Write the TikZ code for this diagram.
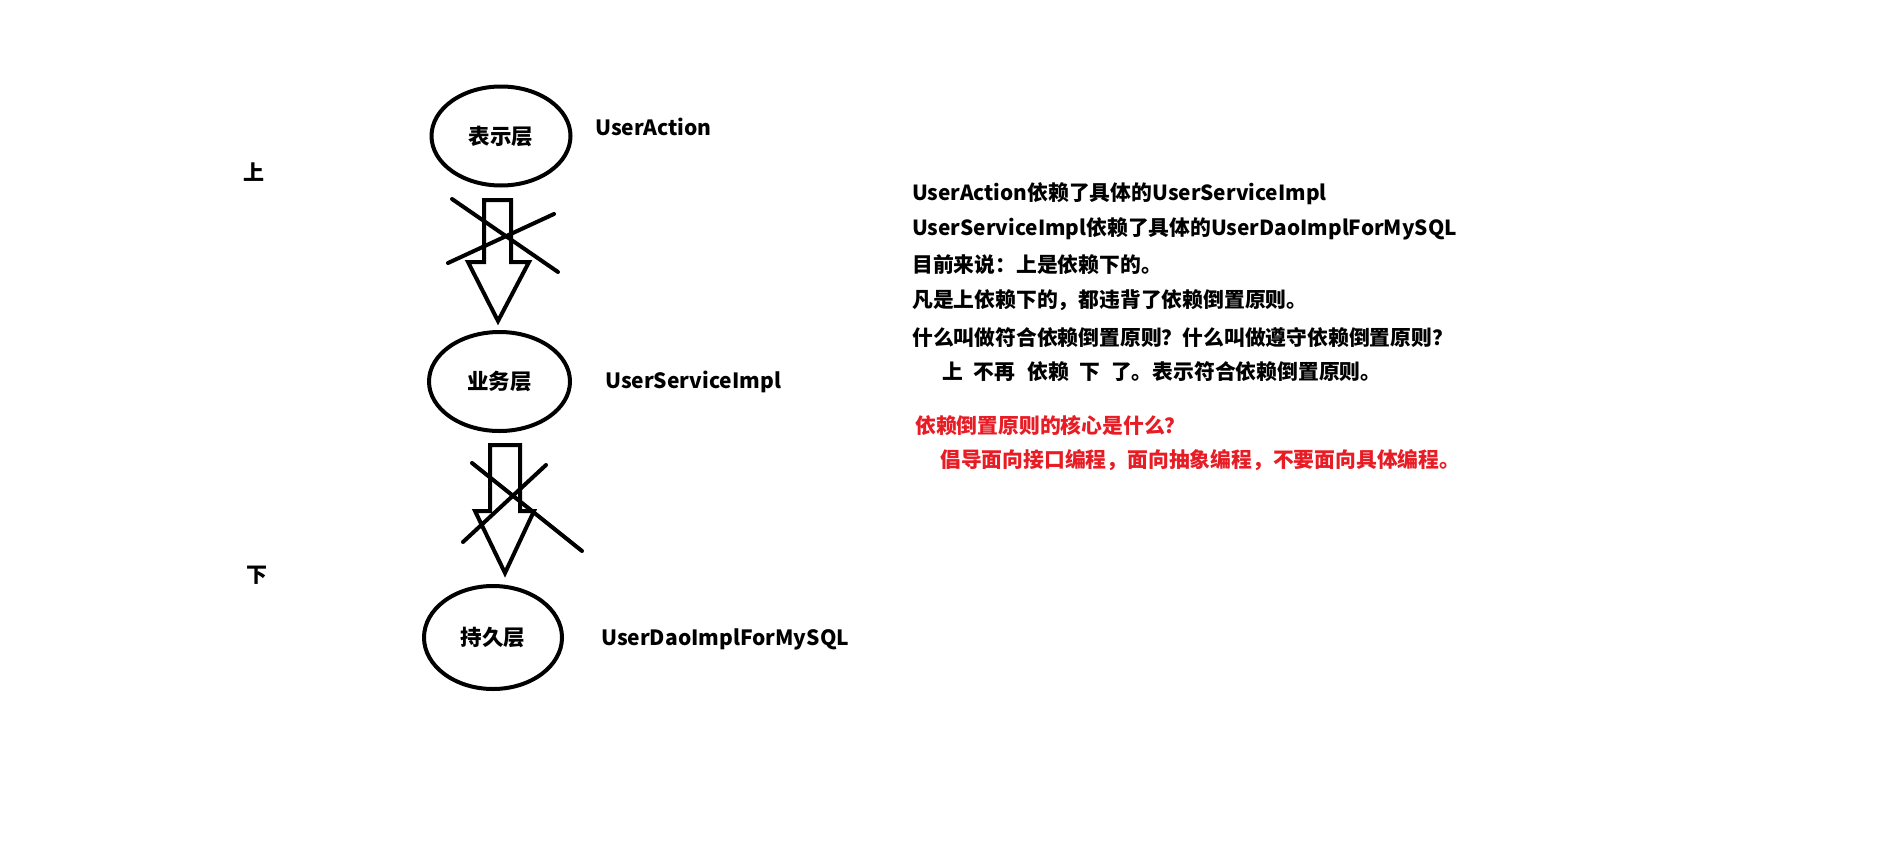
\documentclass[tikz,border=0pt]{standalone}
\usepackage{fontspec}
\setmainfont{Noto Sans CJK SC}
\usetikzlibrary{shapes.geometric}
\definecolor{redtxt}{RGB}{232,28,36}
\begin{document}
\begin{tikzpicture}[x=1pt,y=-1pt,
  every node/.style={inner sep=0pt},
  layer/.style={ellipse, draw, line width=4pt, font=\bfseries\fontsize{21.5}{24}\selectfont},
  lbl/.style={anchor=base west, font=\bfseries\fontsize{21}{24}\selectfont},
  side/.style={font=\bfseries\fontsize{21}{24}\selectfont},
  txt/.style={anchor=base west, font=\bfseries\fontsize{20.8}{24}\selectfont},
  redline/.style={txt, text=redtxt},
  blk/.style={draw, line width=4pt, line join=miter},
  xline/.style={line width=4pt, line cap=round}]
\fill[white] (0,0) rectangle (1893,846);
\useasboundingbox (0,0) rectangle (1893,846);
% layers
\node[layer, minimum width=139pt, minimum height=99pt] (pres) at (501,136) {表示层};
\node[layer, minimum width=141pt, minimum height=99pt] (serv) at (499.5,381.5) {业务层};
\node[layer, minimum width=138pt, minimum height=103pt] (pers) at (493,637.5) {持久层};
% labels
\node[lbl] (l1) at (595,135) {UserAction};
\node[lbl] (l2) at (605,388) {UserServiceImpl};
\node[lbl] (l3) at (601,645) {UserDaoImplForMySQL};
\node[side] (up) at (254,172) {上};
\node[side] (down) at (257,575) {下};
% block arrows
\draw[blk] (484,200) -- (511,200) -- (511,262) -- (529,262) -- (498,321) -- (468,262) -- (484,262) -- cycle;
\draw[blk] (490,445) -- (520,445) -- (520,511) -- (534,511) -- (505,573) -- (475,511) -- (490,511) -- cycle;
% crosses
\draw[xline] (452,199) -- (558,272);
\draw[xline] (448,263) -- (554,214);
\draw[xline] (472,463) -- (582,551);
\draw[xline] (463,542) -- (546,465);
% text
\node[txt] (t1) at (912,200) {UserAction依赖了具体的UserServiceImpl};
\node[txt] (t2) at (912,235) {UserServiceImpl依赖了具体的UserDaoImplForMySQL};
\node[txt] (t3) at (912,272) {目前来说：上是依赖下的。};
\node[txt] (t4) at (912,307.5) {凡是上依赖下的，都违背了依赖倒置原则。};
\node[txt] (t5) at (912,345) {什么叫做符合依赖倒置原则？什么叫做遵守依赖倒置原则？};
\node[txt] (t6) at (942,379) {上\hspace{11pt}不再\hspace{12pt}依赖\hspace{10pt}下\hspace{11pt}了。表示符合依赖倒置原则。};
\node[redline] (r1) at (915,433) {依赖倒置原则的核心是什么？};
\node[redline] (r2) at (940,467) {倡导面向接口编程，面向抽象编程，不要面向具体编程。};
\end{tikzpicture}
\end{document}
